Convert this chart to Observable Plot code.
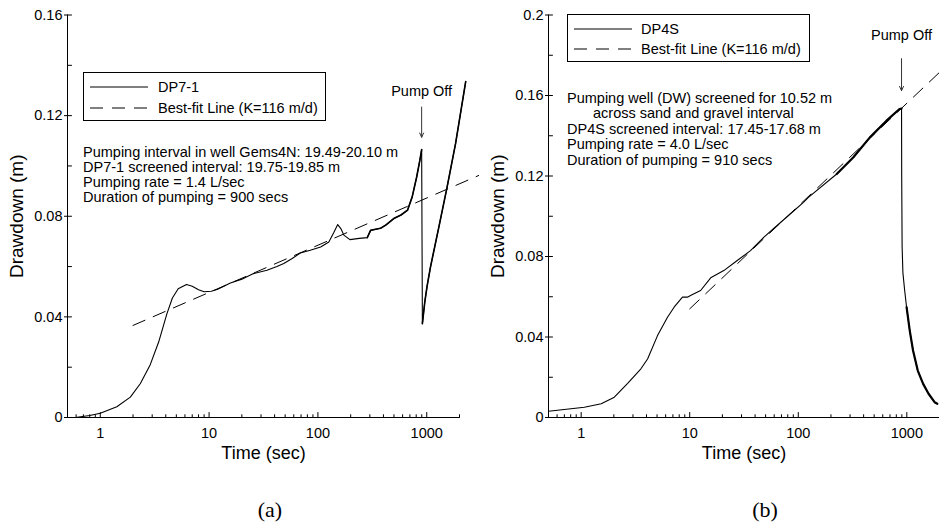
<!DOCTYPE html>
<html>
<head>
<meta charset="utf-8">
<script src="https://cdn.jsdelivr.net/npm/d3@7"></script>
<script src="https://cdn.jsdelivr.net/npm/@observablehq/plot@0.6"></script>
<style>
  html, body { margin: 0; padding: 0; background: #fff; }
  #fig { position: relative; width: 939px; height: 526px; font-family: 'Liberation Sans', Arial, Helvetica, sans-serif; color: #000; }
  .panel { position: absolute; top: 0; width: 470px; height: 526px; }
  .panel svg { overflow: visible; }
  .legend { position: absolute; border: 1px solid #000; background: #fff; box-sizing: border-box; font-size: 14.5px; }
  .legend .row { position: absolute; left: 0; height: 16px; line-height: 16px; white-space: nowrap; }
  .legend svg { position: absolute; top: 7px; }
  .legend span { position: absolute; top: 0; }
  .notes { position: absolute; font-size: 14.5px; white-space: nowrap; }
  .caption { position: absolute; top: 497px; font-family: 'Liberation Serif', 'Times New Roman', serif; font-size: 22px; text-align: center; width: 60px; }
</style>
</head>
<body>
<div id="fig">
  <div class="panel" id="panelA" style="left:0px"></div>
  <div class="panel" id="panelB" style="left:470px;width:469px"></div>
</div>
<script>
// ---------- Shared axis values ----------
const xDomain = [0.5, 2000];
const xMajorTicks = [1, 10, 100, 1000];
const xMinorTicks = [0.6, 0.7, 0.8, 0.9, 2, 3, 4, 5, 6, 7, 8, 9, 20, 30, 40, 50, 60, 70, 80, 90,
                     200, 300, 400, 500, 600, 700, 800, 900, 2000];
const xLabel = "Time (sec)";
const yLabel = "Drawdown (m)";

// ---------- Panel (a): DP7-1 ----------
const yDomainA = [0, 0.16];
const yMajorTicksA = [0, 0.04, 0.08, 0.12, 0.16];
const yMinorTicksA = [0.02, 0.06, 0.10, 0.14];
const dp71Time = [0.59, 0.8, 1.0, 1.42, 1.89, 2.33, 2.88, 3.44, 4.1, 4.6, 5.2, 6.2, 7.0, 8.0, 9.0, 10.5, 12, 15.7, 20,
                  25.6, 34, 42, 48.6, 58, 69, 85, 106, 126, 140, 152, 163, 173, 197, 240, 284, 305, 376, 420, 498,
                  580, 666, 735, 808, 865, 898, 912, 960, 1006, 1082, 1292, 1540, 1840, 2280];
const dp71Drawdown = [0.0, 0.0008, 0.0017, 0.0043, 0.0081, 0.0134, 0.0210, 0.0300, 0.0413, 0.0475, 0.0512, 0.0529,
                      0.0522, 0.0508, 0.0500, 0.0502, 0.0510, 0.0535, 0.0550, 0.0572, 0.0585, 0.0600, 0.0612, 0.0632,
                      0.0654, 0.0665, 0.0678, 0.0698, 0.0735, 0.0767, 0.0750, 0.0725, 0.0707, 0.0712, 0.0715, 0.0744,
                      0.0752, 0.0765, 0.0791, 0.0805, 0.0824, 0.0877, 0.0956, 0.1023, 0.1065, 0.0373, 0.0460, 0.0520,
                      0.0598, 0.0757, 0.0917, 0.1089, 0.1335];
const fitATime = [2.0, 3000];
const fitADrawdown = [0.0366, 0.0962];
const legendA = ["DP7-1", "Best-fit Line (K=116 m/d)"];
const notesA = ["Pumping interval in well Gems4N: 19.49-20.10 m",
                "DP7-1 screened interval: 19.75-19.85 m",
                "Pumping rate = 1.4 L/sec",
                "Duration of pumping = 900 secs"];
const pumpOffA = {t: 898, text: "Pump Off", textY: 0.1298, arrowTop: 0.1234, arrowBottom: 0.1114};
const captionA = "(a)";

// ---------- Panel (b): DP4S ----------
const yDomainB = [0, 0.2];
const yMajorTicksB = [0, 0.04, 0.08, 0.12, 0.16, 0.2];
const yMinorTicksB = [0.02, 0.06, 0.10, 0.14, 0.18];
const dp4sTime = [0.5, 1.07, 1.53, 2.02, 2.68, 3.55, 4.09, 5.05, 6.24, 7.18, 8.57, 9.5, 10.6, 12.6, 15.6, 20.6, 27.4,
                  36.3, 48, 63.8, 84.3, 111.6, 124, 226, 322, 457, 650, 857, 894, 897, 905, 920, 956, 995, 1064,
                  1141, 1261, 1414, 1586, 1802, 1910];
const dp4sDrawdown = [0.0031, 0.0051, 0.0068, 0.0101, 0.0170, 0.0242, 0.0291, 0.0407, 0.0498, 0.0548, 0.0598, 0.0598,
                      0.0611, 0.0631, 0.0694, 0.0730, 0.0780, 0.0829, 0.0895, 0.0954, 0.1011, 0.1069, 0.1094, 0.1210,
                      0.1293, 0.1392, 0.1475, 0.1533, 0.1535, 0.1200, 0.0850, 0.0720, 0.0630, 0.0548, 0.0432, 0.0333,
                      0.0233, 0.0167, 0.0118, 0.0076, 0.0068];
const fitBTime = [10, 2000];
const fitBDrawdown = [0.054, 0.1715];
const legendB = ["DP4S", "Best-fit Line (K=116 m/d)"];
const notesB = ["Pumping well (DW) screened for 10.52 m",
                "across sand and gravel interval",
                "DP4S screened interval: 17.45-17.68 m",
                "Pumping rate = 4.0 L/sec",
                "Duration of pumping = 910 secs"];
const notesBIndent = [false, true, false, false, false];
const pumpOffB = {t: 894, text: "Pump Off", textY: 0.1897, arrowTop: 0.1783, arrowBottom: 0.1624};
const captionB = "(b)";

// ---------- helpers ----------
const zip = (ts, ds) => ts.map((t, i) => ({t, d: ds[i]}));
const tickUp = {draw(context, l) { context.moveTo(0, 0); context.lineTo(0, -l); }};
const tickRight = {draw(context, l) { context.moveTo(0, 0); context.lineTo(l, 0); }};
const fmtY = d => String(d);

function panel({width, marginLeft, marginRight, yDomain, yMajor, yMinor, series, fit, pump, thickWidth}) {
  return Plot.plot({
    width, height: 470,
    marginLeft, marginRight, marginTop: 14.5, marginBottom: 53,
    x: {type: "log", domain: xDomain},
    y: {domain: yDomain},
    style: {fontFamily: "'Liberation Sans', Arial, Helvetica, sans-serif", fontSize: "14.5px", background: "transparent", overflow: "visible"},
    marks: [
      // axes lines
      Plot.ruleY([yDomain[0]], {stroke: "black", strokeWidth: 1}),
      Plot.ruleX([xDomain[0]], {stroke: "black", strokeWidth: 1}),
      // x ticks (inward) and labels
      Plot.vector(xMajorTicks, {x: d => d, y: yDomain[0], length: 5, shape: tickUp, anchor: "start", stroke: "black", strokeWidth: 1}),
      Plot.vector(xMinorTicks, {x: d => d, y: yDomain[0], length: 2.8, shape: tickUp, anchor: "start", stroke: "black", strokeWidth: 1}),
      Plot.axisX({ticks: xMajorTicks, tickSize: 0, tickPadding: 10.5, tickFormat: d => String(d), label: null}),
      Plot.axisX({ticks: [], tickSize: 0, label: xLabel, labelAnchor: "center", labelArrow: "none", labelOffset: 41, fontSize: 18}),
      // y ticks: major cross the axis, minor inward
      Plot.axisY({ticks: yMajor, tickSize: 3, tickPadding: 2, tickFormat: fmtY, label: null}),
      Plot.vector([...yMajor, ...yMinor], {x: xDomain[0], y: d => d, length: 4, shape: tickRight, anchor: "start", stroke: "black", strokeWidth: 1}),
      Plot.axisY({ticks: [], tickSize: 0, label: yLabel, labelAnchor: "center", labelArrow: "none", labelOffset: 58, fontSize: 19}),
      // data
      Plot.line(fit, {x: "t", y: "d", stroke: "black", strokeWidth: 1, strokeDasharray: "13,9"}),
      Plot.line(series, {x: "t", y: "d", stroke: "black", strokeWidth: 1.1}),
      Plot.line(series, {x: "t", y: "d", z: "seg", filter: d => d.seg != null, stroke: "black", strokeWidth: thickWidth}),
      // pump off annotation
      Plot.arrow([pump], {x1: "t", x2: "t", y1: "arrowTop", y2: "arrowBottom", stroke: "#333", strokeWidth: 1, headLength: 7, headAngle: 50}),
      Plot.text([pump], {x: "t", y: "textY", text: "text", fontSize: 14.5, fill: "black"})
    ]
  });
}

function addLegend(container, labels, left, top, width, height, sampleLeft, textLeft, rowTops) {
  const box = document.createElement("div");
  box.className = "legend";
  Object.assign(box.style, {left: left + "px", top: top + "px", width: width + "px", height: height + "px"});
  labels.forEach((lab, i) => {
    const row = document.createElement("div");
    row.className = "row";
    row.style.top = rowTops[i] + "px";
    row.style.width = "100%";
    const dash = i === 1 ? ' stroke-dasharray="13,9"' : "";
    row.innerHTML = `<svg width="60" height="2" style="left:${sampleLeft}px"><line x1="0" y1="1" x2="58" y2="1" stroke="black" stroke-width="1"${dash}/></svg><span style="left:${textLeft}px">${lab}</span>`;
    box.appendChild(row);
  });
  container.appendChild(box);
}

function addNotes(container, lines, left, top, lineHeight, indents) {
  const div = document.createElement("div");
  div.className = "notes";
  Object.assign(div.style, {left: left + "px", top: top + "px", lineHeight: lineHeight + "px"});
  lines.forEach((ln, i) => {
    const p = document.createElement("div");
    p.textContent = ln;
    if (indents && indents[i]) p.style.paddingLeft = "26px";
    div.appendChild(p);
  });
  container.appendChild(div);
}

function addCaption(container, text, center) {
  const c = document.createElement("div");
  c.className = "caption";
  c.textContent = text;
  c.style.left = (center - 30) + "px";
  container.appendChild(c);
}

// ---------- Build panel (a) ----------
const dataA = zip(dp71Time, dp71Drawdown).map(d => ({...d, seg: d.t >= 284 && d.t <= 898 ? "pre" : d.t >= 912 ? "post" : null}));
const fitA = zip(fitATime, fitADrawdown);
const elA = document.getElementById("panelA");
elA.appendChild(panel({width: 470, marginLeft: 67, marginRight: 11, yDomain: yDomainA, yMajor: yMajorTicksA, yMinor: yMinorTicksA,
  series: dataA, fit: fitA, pump: pumpOffA, thickWidth: 1.6}));
addLegend(elA, legendA, 83, 72, 243, 49, 6, 74, [6, 27]);
addNotes(elA, notesA, 83, 144.5, 15, null);
addCaption(elA, captionA, 270);

// ---------- Build panel (b) ----------
const dataB = zip(dp4sTime, dp4sDrawdown).map(d => ({...d, seg: d.t >= 226 && d.t <= 894 ? "pre" : d.t >= 995 ? "post" : null}));
const fitB = zip(fitBTime, fitBDrawdown);
const elB = document.getElementById("panelB");
elB.appendChild(panel({width: 469, marginLeft: 78, marginRight: 0, yDomain: yDomainB, yMajor: yMajorTicksB, yMinor: yMinorTicksB,
  series: dataB, fit: fitB, pump: pumpOffB, thickWidth: 2.2}));
addLegend(elB, legendB, 97, 14, 243, 48, 6, 73, [6, 26]);
addNotes(elB, notesB, 97, 91, 15.4, notesBIndent);
addCaption(elB, captionB, 295);
</script>
</body>
</html>
